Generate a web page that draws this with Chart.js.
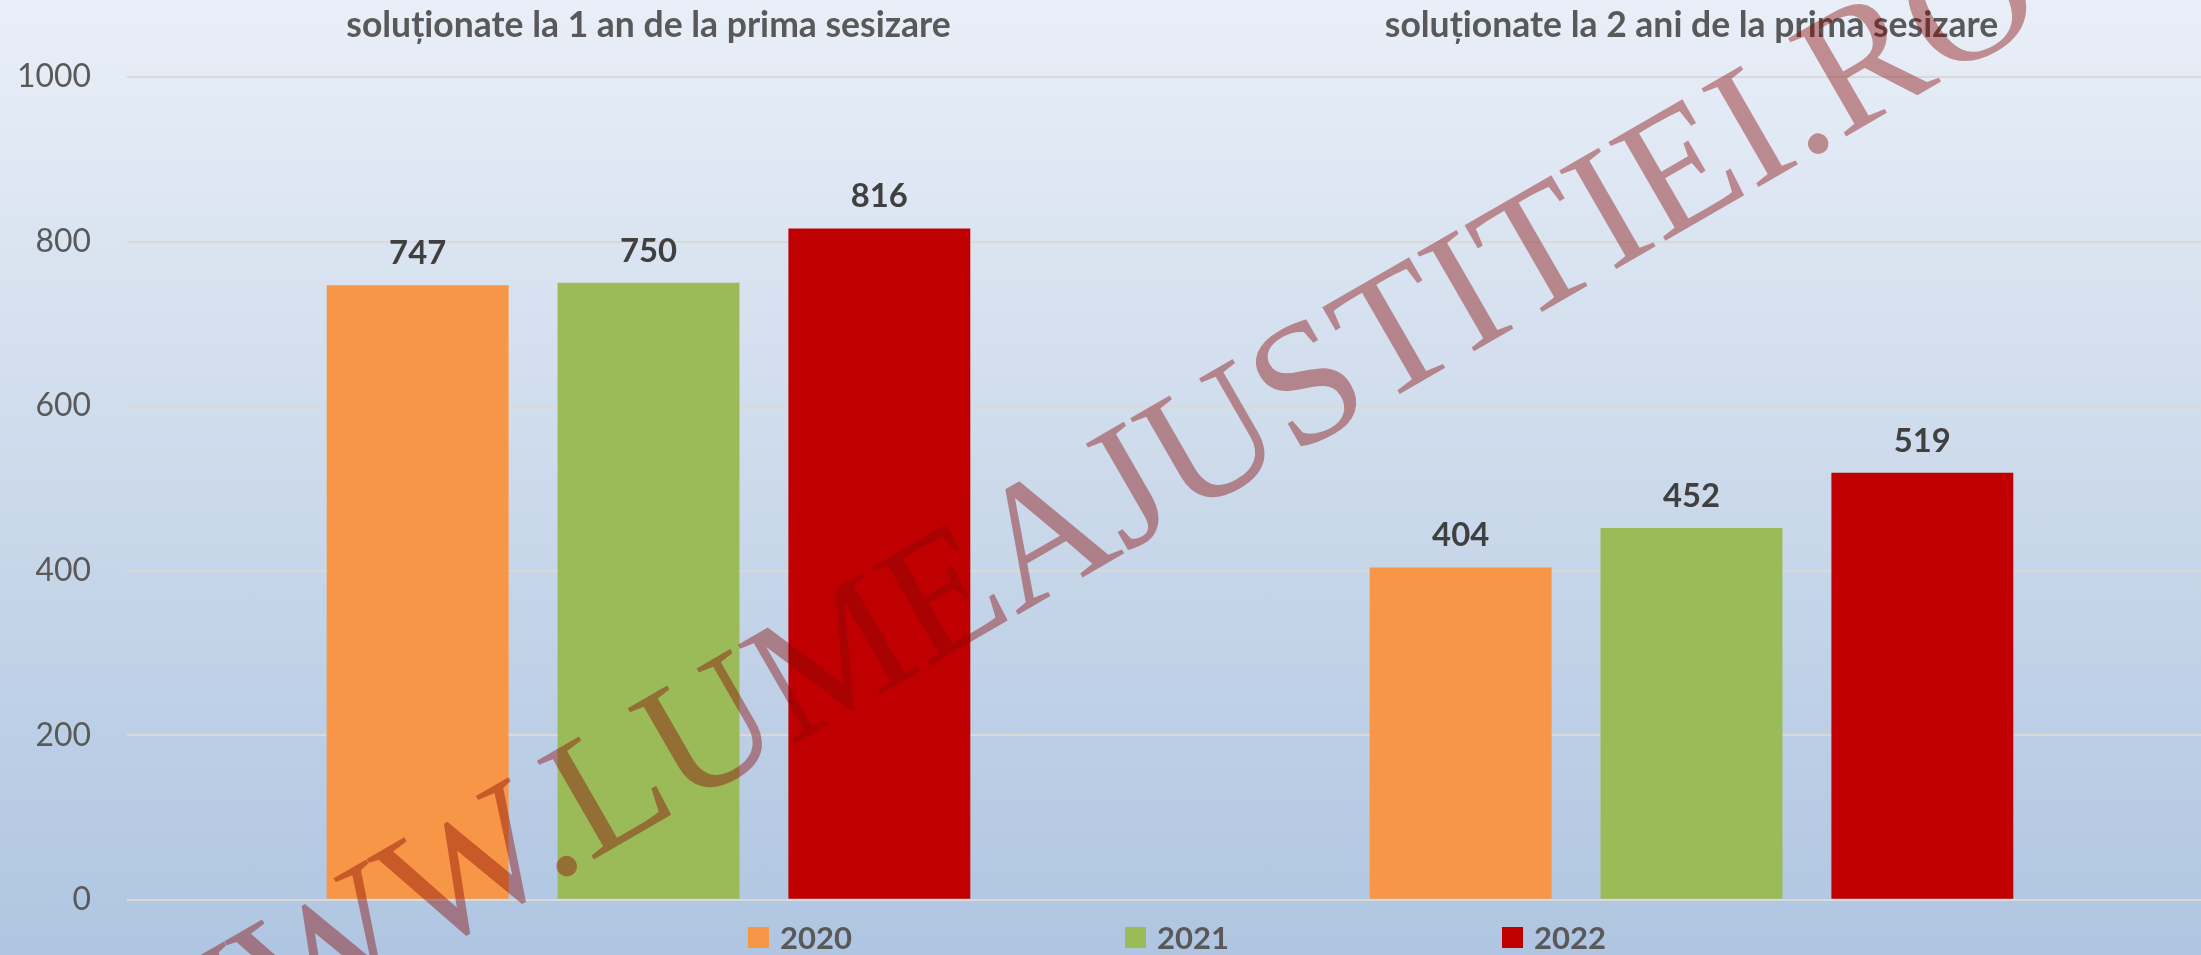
<!DOCTYPE html>
<html>
<head>
<meta charset="utf-8">
<script src="https://cdn.jsdelivr.net/npm/chart.js@4.4.1/dist/chart.umd.min.js"></script>
<style>
  html, body { margin: 0; padding: 0; width: 2201px; height: 955px; overflow: hidden; }
  #frame { position: relative; width: 2201px; height: 955px; overflow: hidden;
           background: linear-gradient(to bottom, #E9EFF8 0%, #CCDAEB 50%, #AFC5E1 100%); }
  #wrap { position: absolute; left: 0; top: 0; width: 2213px; height: 955px; }
  #legend { position: absolute; left: 748px; top: 922px; display: flex; font-family: Lato, "Open Sans", sans-serif;
            font-weight: bold; color: #595959; }
  #legend .item { width: 377px; display: flex; align-items: center; white-space: nowrap; }
  #legend .box { width: 21px; height: 21px; margin-right: 11px; flex: none; }
  #wm { position: absolute; left: 0; top: 0; pointer-events: none; }
</style>
</head>
<body>
<div id="frame">
  <div id="wrap"><canvas id="c" width="2213" height="955"></canvas></div>
  <div id="legend"></div>
  <svg id="wm" width="2201" height="955" xmlns="http://www.w3.org/2000/svg">
    <text id="wmText" transform="translate(139,1122) rotate(-30)" font-family="Liberation Serif, Times New Roman, serif"
          font-size="174" fill="rgb(135,8,5)" fill-opacity="0.42">WWW.LUMEAJUSTITIEI.RO</text>
  </svg>
</div>
<script>
// ---- data ----
const categories = ['soluționate la 1 an de la prima sesizare', 'soluționate la 2 ani de la prima sesizare'];
const seriesNames = ['2020', '2021', '2022'];
const values2020 = [747, 404];
const values2021 = [750, 452];
const values2022 = [816, 519];
const yMin = 0;
const yMax = 1000;
const yStep = 200;

// ---- styles ----
const seriesColors = ['#F79646', '#9BBB59', '#C00000'];
const FAMILY = 'Lato, "Open Sans", sans-serif';

function fitSize(text, weight, target) {
  const c = document.createElement('canvas').getContext('2d');
  c.font = weight + ' 100px ' + FAMILY;
  return Math.round(100 * target / c.measureText(text).width * 10) / 10;
}
const titleSize = fitSize(categories[0], 'bold', 604);
const labelSize = fitSize('747', 'bold', 57);
const tickSize = fitSize('1000', 'normal', 74);
const legendSize = fitSize('2020', 'bold', 72);

const valueLabels = {
  id: 'valueLabels',
  afterDatasetsDraw(chart) {
    const ctx = chart.ctx;
    ctx.save();
    ctx.font = 'bold ' + labelSize + 'px ' + FAMILY;
    ctx.fillStyle = '#404040';
    ctx.textAlign = 'center';
    ctx.textBaseline = 'alphabetic';
    chart.data.datasets.forEach((ds, i) => {
      chart.getDatasetMeta(i).data.forEach((bar, j) => {
        ctx.fillText(String(ds.data[j]), bar.x, bar.y - 21);
      });
    });
    ctx.restore();
  }
};

const seriesValues = [values2020, values2021, values2022];
const chart = new Chart(document.getElementById('c'), {
  type: 'bar',
  data: {
    labels: categories,
    datasets: seriesNames.map((n, i) => ({
      label: n,
      data: seriesValues[i],
      backgroundColor: seriesColors[i],
      borderWidth: 0,
      categoryPercentage: 0.664,
      barPercentage: 0.788
    }))
  },
  options: {
    responsive: false,
    devicePixelRatio: 1,
    animation: false,
    layout: { padding: { left: 0, right: 0, top: 0, bottom: 54 } },
    plugins: { legend: { display: false }, tooltip: { enabled: false } },
    scales: {
      x: {
        position: 'top',
        grid: { display: false, drawTicks: false },
        border: { display: false },
        ticks: { color: '#595959', padding: 30, font: { family: FAMILY, weight: 'bold', size: titleSize } },
        afterFit(s) { s.height = 77; }
      },
      y: {
        min: yMin, max: yMax,
        grid: { color: '#D9D9D9', lineWidth: 2, drawTicks: false },
        border: { display: false },
        ticks: { stepSize: yStep, color: '#595959', padding: 36, font: { family: FAMILY, size: tickSize },
                 callback: v => String(v) },
        afterFit(s) { s.width = 127; }
      }
    }
  },
  plugins: [valueLabels]
});

// legend (HTML) from the datasets
const lg = document.getElementById('legend');
chart.data.datasets.forEach(ds => {
  const it = document.createElement('div'); it.className = 'item';
  const b = document.createElement('span'); b.className = 'box'; b.style.background = ds.backgroundColor;
  const t = document.createElement('span'); t.textContent = ds.label; t.style.fontSize = legendSize + 'px'; t.style.lineHeight = '1';
  it.appendChild(b); it.appendChild(t); lg.appendChild(it);
});
</script>
</body>
</html>
